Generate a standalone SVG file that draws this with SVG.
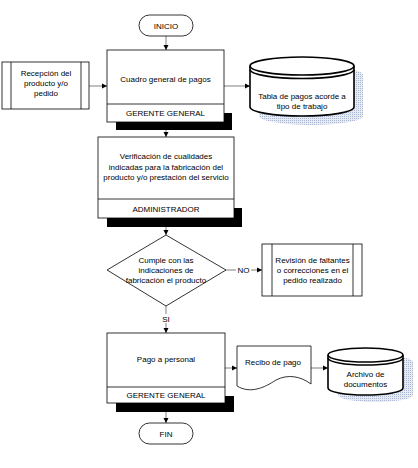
<svg xmlns="http://www.w3.org/2000/svg" width="418" height="468" viewBox="0 0 418 468">
<style>
text{font-family:"Liberation Sans",Arial,sans-serif;font-size:8px;fill:#000;text-anchor:middle}
.box{fill:#fff;stroke:#000;stroke-width:0.8}
.sh{fill:#000}
.cyl{fill:#fff;stroke:#000;stroke-width:1.6}
.con{stroke:#808080;stroke-width:1;fill:none}
.csh{fill:url(#dots)}
</style>
<defs>
<marker id="ah" markerWidth="6" markerHeight="6" refX="5" refY="3" orient="auto" markerUnits="userSpaceOnUse">
<path d="M0,0.5 L5,3 L0,5.5 Z" fill="#000"/>
</marker>
<pattern id="dots" width="2" height="2" patternUnits="userSpaceOnUse">
<rect width="2" height="2" fill="#e6ebf4"/>
<rect width="1" height="1" fill="#aab6d0"/>
</pattern>
</defs>
<g id="connectors">
<path class="con" d="M166,36 V50" marker-end="url(#ah)"/>
<path class="con" d="M89,86 H107" marker-end="url(#ah)"/>
<path class="con" d="M224,86 H250" marker-end="url(#ah)"/>
<path class="con" d="M166,130 V137" marker-end="url(#ah)"/>
<path class="con" d="M166,227 V235" marker-end="url(#ah)"/>
<path class="con" d="M226,270 H236 M251,270 H262" marker-end="url(#ah)"/>
<text x="243.5" y="273">NO</text>
<path class="con" d="M166,306 V314 M166,323 V333" marker-end="url(#ah)"/>
<text x="166" y="322">SI</text>
<path class="con" d="M225,368 H237" marker-end="url(#ah)"/>
<path class="con" d="M311,368 H328" marker-end="url(#ah)"/>
<path class="con" d="M166,412 V423" marker-end="url(#ah)"/>
</g>
<g id="inicio">
<rect class="box" x="139" y="15" width="54" height="21" rx="10.5"/>
<text x="166" y="28.5">INICIO</text>
</g>
<g id="recepcion">
<rect class="box" x="2" y="62" width="87" height="47"/>
<line x1="11" y1="62" x2="11" y2="109" stroke="#000" stroke-width="0.8"/>
<line x1="81" y1="62" x2="81" y2="109" stroke="#000" stroke-width="0.8"/>
<text x="46" y="76">Recepción del</text>
<text x="46" y="86">producto y/o</text>
<text x="46" y="96">pedido</text>
</g>
<g id="cuadro">
<rect class="sh" x="116" y="113" width="116" height="17"/>
<rect class="box" x="107" y="50" width="117" height="72"/>
<line x1="107" y1="104" x2="224" y2="104" stroke="#000" stroke-width="0.8"/>
<text x="165.5" y="82">Cuadro general de pagos</text>
<text x="165.5" y="116">GERENTE GENERAL</text>
</g>
<g id="tabla">
<path class="csh" d="M259,75 A52,9 0 0 1 363,75 V116 A52,9 0 0 1 259,116 Z"/>
<path class="cyl" d="M250,66 A52,9 0 0 1 354,66 V107 A52,9 0 0 1 250,107 Z"/>
<path fill="none" stroke="#000" stroke-width="1.6" d="M250,66 A52,9 0 0 0 354,66 M250,69.5 A52,9 0 0 0 354,69.5"/>
<text x="302" y="99">Tabla de pagos acorde a</text>
<text x="302" y="109">tipo de trabajo</text>
</g>
<g id="verificacion">
<rect class="sh" x="107" y="208" width="135" height="19"/>
<rect class="box" x="98" y="137" width="136" height="81"/>
<line x1="98" y1="199" x2="234" y2="199" stroke="#000" stroke-width="0.8"/>
<text x="166" y="159">Verificación de cualidades</text>
<text x="166" y="170">indicadas para la fabricación del</text>
<text x="166" y="180">producto y/o prestación del servicio</text>
<text x="166" y="212">ADMINISTRADOR</text>
</g>
<g id="cumple">
<path class="box" d="M166,235 L226,270 L166,306 L107,270 Z"/>
<text x="166" y="263">Cumple con las</text>
<text x="166" y="273">indicaciones de</text>
<text x="166" y="283">fabricación el producto</text>
</g>
<g id="revision">
<rect class="box" x="262" y="244" width="100" height="52"/>
<line x1="272" y1="244" x2="272" y2="296" stroke="#000" stroke-width="0.8"/>
<line x1="353" y1="244" x2="353" y2="296" stroke="#000" stroke-width="0.8"/>
<text x="312.5" y="263">Revisión de faltantes</text>
<text x="312.5" y="273">o correcciones en el</text>
<text x="312.5" y="283">pedido realizado</text>
</g>
<g id="pago">
<rect class="sh" x="116" y="396" width="118" height="16"/>
<rect class="box" x="107" y="333" width="118" height="70"/>
<line x1="107" y1="387" x2="225" y2="387" stroke="#000" stroke-width="0.8"/>
<text x="166" y="362">Pago a personal</text>
<text x="166" y="398">GERENTE GENERAL</text>
</g>
<g id="recibo">
<path class="box" d="M237,346 H311 V384 C300,376 288,374 276,380 C264,388 250,394 237,386 Z"/>
<text x="273" y="365">Recibo de pago</text>
</g>
<g id="archivo">
<path class="csh" d="M338,362 A37.5,7 0 0 1 413,362 V395 A37.5,7 0 0 1 338,395 Z"/>
<path class="cyl" d="M328,355 A37.5,7 0 0 1 403,355 V388 A37.5,7 0 0 1 328,388 Z"/>
<path fill="none" stroke="#000" stroke-width="1.6" d="M328,355 A37.5,7 0 0 0 403,355 M328,358 A37.5,7 0 0 0 403,358"/>
<text x="365.5" y="377">Archivo de</text>
<text x="365.5" y="387">documentos</text>
</g>
<g id="fin">
<rect class="box" x="139" y="423" width="54" height="21" rx="10.5"/>
<text x="166" y="436.5">FIN</text>
</g>
</svg>
